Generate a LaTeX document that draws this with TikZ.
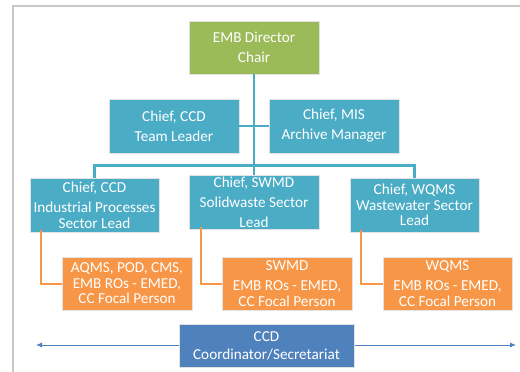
\documentclass[tikz,border=0pt]{standalone}
\usepackage{fontspec}
\setmainfont{Carlito}
\usetikzlibrary{arrows.meta}
\definecolor{cgreen}{HTML}{9BBB59}
\definecolor{cteal}{HTML}{4BACC6}
\definecolor{corange}{HTML}{F79646}
\definecolor{cblue}{HTML}{4F81BD}
\definecolor{cframe}{HTML}{C8C8C8}
\definecolor{cedge}{HTML}{E2E2E2}
\begin{document}
\begin{tikzpicture}[x=1pt,y=-1pt,
  box/.style={draw=cedge,line width=0.8pt,text=white,align=center,inner sep=0pt,
    font=\fontsize{15.2}{15.5}\selectfont},
  gbox/.style={box,fill=cgreen,minimum width=130pt,minimum height=53pt},
  tbox/.style={box,fill=cteal,minimum width=130pt,minimum height=54pt},
  obox/.style={box,fill=corange,minimum width=130pt,minimum height=53pt},
  bbox/.style={box,fill=cblue,minimum width=175pt,minimum height=43pt},
  tline/.style={draw=cteal,line width=2.5pt},
  oline/.style={draw=corange,line width=2pt},
  bline/.style={draw=cblue,line width=0.9pt,{Latex[length=6pt,width=5pt]}-{Latex[length=6pt,width=5pt]}}
]
\useasboundingbox (0,0) rectangle (520,372);
\fill[white] (0,0) rectangle (520,372);
\draw[cframe,line width=1.5pt] (13,372) -- (13,6) -- (520,6);

\node[gbox] (dir) at (254,47.5) {EMB Director\\[4.5pt]Chair};
\node[tbox] (tl) at (174,126) {Chief, CCD\\[4.5pt]Team Leader};
\node[tbox] (am) at (334,126) {Chief, MIS\\[4.5pt]Archive Manager};
\node[tbox,minimum width=129pt] (s1) at (94.5,205) {Chief, CCD\\[5pt]Industrial Processes\\Sector Lead};
\node[tbox] (s2) at (254,202) {Chief, SWMD\\[4.5pt]Solidwaste Sector\\[4.5pt]Lead};
\node[tbox,minimum width=129pt] (s3) at (414.5,205) {Chief, WQMS\\Wastewater Sector\\Lead};
\node[obox] (o1) at (127,283.5) {AQMS, POD, CMS,\\EMB ROs - EMED,\\CC Focal Person};
\node[obox] (o2) at (287,283.5) {SWMD\\[5pt]EMB ROs - EMED,\\CC Focal Person};
\node[obox,minimum width=129pt] (o3) at (447.5,283.5) {WQMS\\[5pt]EMB ROs - EMED,\\CC Focal Person};

\draw[tline] (dir.south) -- (s2.north);
\draw[tline] (tl.east) -- (am.west);
\draw[tline] (s1.north) -- ++(0,-12) -| (s3.north);

\draw[oline] ([xshift=11pt,yshift=2pt]s1.south west) |- (o1.west);
\draw[oline] ([xshift=12pt,yshift=2pt]s2.south west) |- (o2.west);
\draw[oline] ([xshift=11pt,yshift=2pt]s3.south west) |- (o3.west);

\coordinate (aL) at (36,345);
\coordinate (aR) at (516,345);
\draw[bline] (aL) -- (aR);
\node[bbox] (ccd) at (266.5,345.5) {CCD\\[2.5pt]Coordinator/Secretariat};
\end{tikzpicture}
\end{document}
